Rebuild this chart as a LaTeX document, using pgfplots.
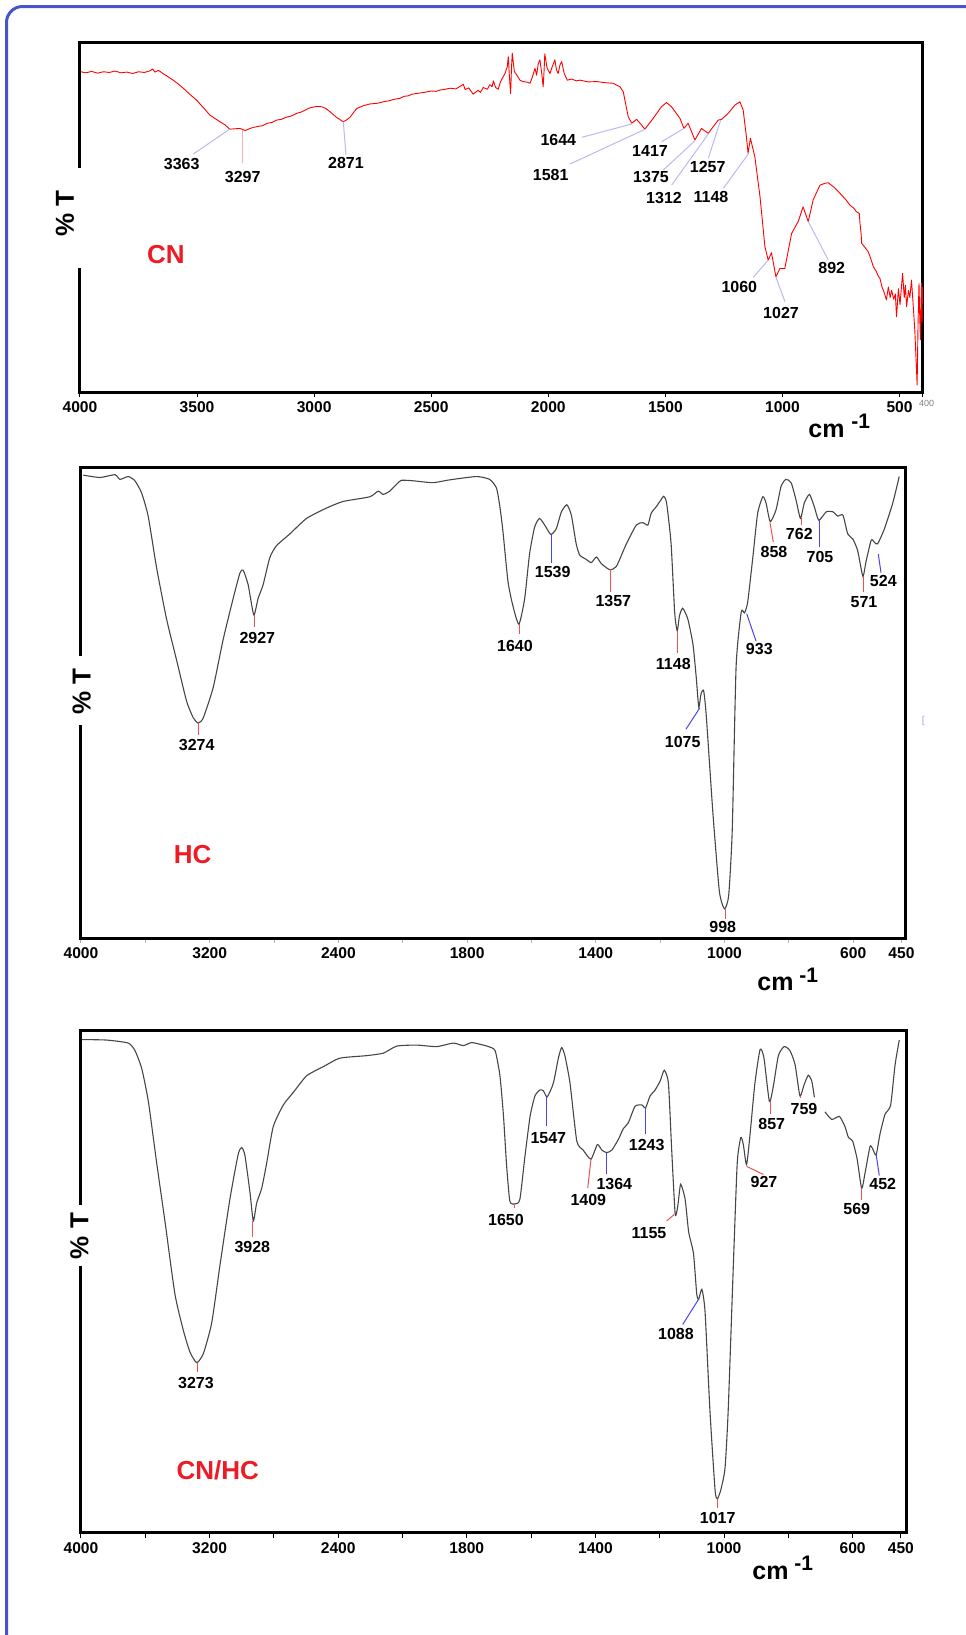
\documentclass[border=0pt]{standalone}
\usepackage{pgfplots}
\pgfplotsset{compat=1.18}
\usepackage{fontspec}
\setmainfont{Liberation Sans}

\newlength\px
\setlength\px{0.5pt}

\definecolor{cnred}{RGB}{255,0,0}
\definecolor{lblred}{RGB}{237,28,36}
\definecolor{curve}{RGB}{70,70,70}
\definecolor{frameblue}{RGB}{72,84,204}
\definecolor{lav}{RGB}{185,185,240}
\definecolor{pinkl}{RGB}{255,175,175}
\definecolor{redl}{RGB}{240,80,80}
\definecolor{bluel}{RGB}{70,70,235}

\tikzset{
  pk/.style={font=\fontsize{8}{9}\selectfont\bfseries, inner sep=0pt},
  ld/.style={line width=1\px},
  pt/.style={rotate=90, inner sep=0pt, font=\fontsize{13}{14}\selectfont\bfseries},
  smp/.style={inner sep=0pt, text=lblred, font=\fontsize{13}{14}\selectfont\bfseries},
}

\pgfplotsset{
  ftir/.style={
    scale only axis, anchor=south west, x dir=reverse,
    ymin=0, ymax=100, ytick=\empty,
    axis line style={line width=3\px},
    tick align=outside, xtick pos=bottom, major tick length=5\px,
    tick style={line width=1\px, black},
    ticklabel style={font=\fontsize{7.8}{9}\selectfont\bfseries},
    xticklabel style={anchor=center, yshift=-10.5\px},
    unbounded coords=jump,
  },
  % the x axis is twice as wide per unit below 2000 cm-1
  brk/.style={
    x coord trafo/.code={\pgfmathparse{(##1>2000)*((##1)/2+1000)+(##1<=2000)*(##1)}},
    xmin=436, xmax=4000,
    xtick={450,600,800,1000,1200,1400,1600,1800,2000,2400,2800,3200,3600,4000},
    xticklabels={450,600,,1000,,1400,,1800,,2400,,3200,,4000},
  },
}

\begin{document}
\begin{tikzpicture}[x=\px, y=-\px]
\path[use as bounding box] (0,0) rectangle (965,1635);
\draw[frameblue, line width=3\px, rounded corners=16\px] (6.5,6.5) rectangle (1000,1700);

% ---------------- CN ----------------
\begin{axis}[ftir, at={(80\px,-392\px)}, width=843\px, height=350\px,
  xmin=400, xmax=4000,
  xtick={400,500,1000,1500,2000,2500,3000,3500,4000},
  xticklabels={,500,1000,1500,2000,2500,3000,3500,4000}]
\addplot[cnred, line width=0.9\px, line join=round] coordinates {
(3996,91.5) (3975,91.2) (3950,91.6) (3925,91.1) (3900,91.5) (3875,91.3)
(3850,91.7) (3825,91.2) (3800,91.4) (3775,91.0) (3750,91.5) (3725,91.3)
(3700,91.8) (3690,92.3) (3680,91.4) (3665,91.9) (3650,91.2) (3602,89.1)
(3580,88.0) (3559,86.8) (3530,85.0) (3502,83.4) (3470,81.0) (3445,79.1)
(3420,78.0) (3402,77.2) (3380,76.3) (3360,75.1) (3340,75.2) (3317,75.3)
(3305,75.0) (3295,74.7) (3270,75.4) (3246,75.8) (3220,76.1) (3200,76.8)
(3180,77.0) (3160,77.7) (3140,77.9) (3120,78.5) (3100,78.8) (3075,79.6)
(3055,80.0) (3040,80.5) (3018,81.2) (2990,81.6) (2968,81.5)
(2950,81.0) (2933,80.1) (2905,78.5) (2876,77.2) (2860,77.8) (2847,78.5)
(2830,80.0) (2818,81.0) (2790,81.8) (2762,82.3) (2730,82.5) (2700,83.0)
(2680,83.2) (2660,83.6) (2634,83.9) (2615,84.5) (2600,84.6) (2580,85.1)
(2562,85.3) (2530,85.6) (2500,86.0) (2480,85.9) (2460,86.3) (2440,86.5)
(2420,86.8) (2395,86.6) (2380,87.2) (2363,87.9) (2355,86.4) (2340,86.9)
(2321,85.1) (2300,86.2) (2290,85.6) (2278,87.0) (2260,86.5) (2250,87.8)
(2240,87.2) (2235,88.9) (2225,87.0) (2214,86.5) (2205,88.5) (2195,89.8)
(2185,91.0) (2175,93.0) (2171,95.8) (2166,90.0) (2161,85.3) (2157,93.0)
(2154,96.8) (2145,91.5) (2135,90.6) (2120,89.0) (2107,88.7) (2090,88.5)
(2078,88.2) (2068,90.0) (2057,92.5) (2050,90.5) (2043,93.8) (2036,94.9)
(2028,91.0) (2022,87.2) (2018,92.0) (2015,96.6) (2005,92.5) (1993,91.0)
(1983,93.0) (1972,94.9) (1965,92.0) (1958,91.0) (1950,93.5) (1943,94.4)
(1932,91.0) (1919,89.1) (1900,89.4) (1880,88.9) (1865,89.1) (1830,88.6)
(1794,88.7) (1760,88.4) (1723,88.2) (1694,87.2) (1680,85.8) (1659,78.7)
(1644,76.8) (1623,77.9) (1602,76.3) (1588,75.1) (1552,78.2) (1517,81.5)
(1495,82.7) (1474,81.5) (1438,78.2) (1421,75.3) (1403,76.8) (1374,72.0)
(1346,75.3) (1317,73.9) (1296,75.8) (1274,77.7) (1260,77.9) (1232,79.6)
(1203,82.0) (1182,82.9) (1168,80.6) (1154,72.9) (1147,68.2) (1137,72.5)
(1118,67.2) (1096,55.8) (1075,41.5) (1061,37.7) (1047,39.8) (1028,32.9)
(1011,35.3) (990,35.3) (961,45.3) (933,48.7) (912,52.9) (890,48.7)
(869,54.9) (840,59.1) (820,59.6) (805,59.8) (780,58.5) (755,56.8)
(730,55.0) (712,53.4) (695,52.5) (684,51.5) (672,51.0) (669,48.2)
(664,45.0) (662,42.5) (650,41.5) (634,40.1) (625,38.5) (612,35.8)
(600,34.5) (590,33.0) (584,32.5) (575,30.0) (566,28.5) (556,26.3)
(548,30.0) (540,27.0) (534,29.1) (525,26.5) (518,28.0) (513,21.5)
(505,29.5) (498,25.0) (492,30.0) (487,33.9) (480,27.0) (475,30.5)
(470,24.4) (462,29.0) (456,27.0) (449,32.0) (442,25.0) (435,17.7)
(430,10.0) (425,2.0) (421,20.0) (417,31.0) (414,22.0) (411,14.9)
(408,26.0) (406,31.0) (404,20.0) (402,30.0)
};
\end{axis}
\fill[white] (76,168) rectangle (84,268);
\node[pt] at (65,213.5) {\% T};
\node[smp] at (166,254.3) {CN};
\node[inner sep=0pt, text=gray, font=\fontsize{4.5}{5}\selectfont] at (926.7,403) {400};
\node[anchor=base west, inner sep=0pt, font=\fontsize{12.5}{13}\selectfont\bfseries] at (808,437) {cm};
\node[anchor=base west, inner sep=0pt, font=\fontsize{10.5}{11}\selectfont\bfseries] at (851,428) {-1};
\draw[ld, lav] (193.3,154) -- (230,129);
\draw[ld, pinkl] (242.7,163.3) -- (242.7,130);
\draw[ld, lav] (346,155) -- (343.3,121.7);
\draw[ld, lav] (581.7,137.3) -- (631.7,124);
\draw[ld, lav] (570,164) -- (645,129.3);
\draw[ld, lav] (661.7,141.7) -- (684,128.3);
\draw[ld, lav] (663.3,170) -- (695,140.7);
\draw[ld, lav] (671.7,185) -- (708.3,134);
\draw[ld, lav] (708.3,158.3) -- (720.7,120);
\draw[ld, lav] (723.3,188.3) -- (748.3,154);
\draw[ld, lav] (753.3,277.3) -- (768.3,260);
\draw[ld, lav] (785,301.7) -- (776,277.3);
\draw[ld, lav] (828.3,260) -- (808.3,221.7);
\node[pk] at (181.7,164) {3363};
\node[pk] at (242.7,177.3) {3297};
\node[pk] at (346,163.3) {2871};
\node[pk] at (558.3,140) {1644};
\node[pk] at (550.7,175) {1581};
\node[pk] at (650,150.7) {1417};
\node[pk] at (651,177.3) {1375};
\node[pk] at (664,198.3) {1312};
\node[pk] at (707.7,166.7) {1257};
\node[pk] at (711,197.3) {1148};
\node[pk] at (739.3,286.7) {1060};
\node[pk] at (781,312.7) {1027};
\node[pk] at (831.7,268.3) {892};

% ---------------- HC ----------------
\begin{axis}[ftir, brk, at={(81\px,-938\px)}, width=825\px, height=470.4\px,
  tick style={line width=1\px, gray!60}]
\addplot[curve, line width=1.1\px, smooth, tension=0.35] coordinates {
(3986,98.4) (3882,97.9) (3789,98.5) (3758,97.5) (3706,98.1) (3665,97.2)
(3623,94.6) (3582,89.6) (3530,78.7) (3468,67.8) (3406,59.1) (3344,50.4)
(3302,46.8) (3271,45.7) (3240,46.8) (3178,53.3) (3116,63.5) (3054,72.2)
(3012,77.6) (2992,78.2) (2961,75.1) (2926,68.7) (2899,72.2) (2868,75.1)
(2826,80.9) (2785,83.4) (2702,85.9) (2598,89.2) (2474,91.4) (2371,92.8)
(2205,93.8) (2153,95.0) (2122,94.3) (2081,95.0) (2040,96.4) (2009,97.3)
(1968,97.2) (1906,96.8) (1854,97.4) (1771,98.1) (1730,97.5) (1709,95.7)
(1699,92.1) (1689,86.7) (1673,75.8) (1658,70.7) (1639,66.7) (1621,72.2)
(1606,81.6) (1590,87.4) (1575,89.2) (1559,87.8) (1540,85.8) (1523,87.0)
(1507,90.6) (1490,92.1) (1476,89.9) (1461,83.8) (1450,81.4) (1430,80.5)
(1414,79.8) (1398,81.0) (1383,79.6) (1357,78.3) (1336,79.0) (1305,83.8)
(1274,87.8) (1254,88.3) (1238,87.8) (1228,90.3) (1212,91.7) (1197,93.2)
(1189,93.9) (1180,92.5) (1166,83.8) (1155,69.3) (1147,65.3) (1140,68.5)
(1130,70.1) (1114,67.8) (1098,62.4) (1088,55.5) (1080,49.1) (1073,51.9)
(1065,52.6) (1057,47.5) (1036,26.5) (1016,9.9) (1000,6.2) (987,9.1)
(976,22.9) (964,57.7) (948,69.3) (938,69.1) (928,71.4) (912,80.9)
(897,90.3) (881,93.8) (871,92.5) (858,88.5) (840,91.0) (824,96.1)
(809,97.5) (793,96.8) (778,93.2) (764,89.2) (752,92.5) (736,94.3)
(721,91.7) (707,88.8) (684,90.6) (663,90.6) (648,89.7) (632,89.9)
(617,85.9) (601,84.8) (586,82.3) (570,76.9) (560,80.1) (544,84.6)
(534,84.1) (524,83.8) (503,87.0) (477,92.5) (457,98.1)
};
\end{axis}
\fill[white] (77,656.4) rectangle (85,724.6);
\node[pt] at (81.7,691.3) {\% T};
\node[smp] at (192.7,855) {HC};
\node[inner sep=0pt, text=bluel!50, font=\fontsize{5}{6}\selectfont] at (923.3,721) {[};
\node[anchor=base west, inner sep=0pt, font=\fontsize{12.5}{13}\selectfont\bfseries] at (757,990) {cm};
\node[anchor=base west, inner sep=0pt, font=\fontsize{10.5}{11}\selectfont\bfseries] at (799,982) {-1};
\draw[ld, redl] (198.3,722.9) -- (198.3,734.9);
\draw[ld, redl] (254,614.7) -- (254,627.4);
\draw[ld, redl] (519,624) -- (519,634.2);
\draw[ld, bluel] (551.7,534.2) -- (551.7,562.5);
\draw[ld, redl] (610,569.3) -- (610,591.5);
\draw[ld, redl] (677.7,630.8) -- (677.7,653);
\draw[ld, bluel] (700,707.6) -- (686,729.1);
\draw[ld, redl] (725,908.9) -- (725,919.2);
\draw[ld, bluel] (746.7,613.7) -- (756,641);
\draw[ld, redl] (770,522.6) -- (773.3,542);
\draw[ld, redl] (801,518.1) -- (801,525);
\draw[ld, bluel] (819.3,519.8) -- (819.3,547.2);
\draw[ld, redl] (863.3,576.2) -- (863.3,591.5);
\draw[ld, bluel] (878.3,554) -- (881,572.7);
\node[pk] at (196.7,745.1) {3274};
\node[pk] at (257.3,637.6) {2927};
\node[pk] at (515,646.1) {1640};
\node[pk] at (552.7,571.7) {1539};
\node[pk] at (613.3,601.1) {1357};
\node[pk] at (673.3,663.9) {1148};
\node[pk] at (682.7,742.4) {1075};
\node[pk] at (722.7,927) {998};
\node[pk] at (759.3,648.9) {933};
\node[pk] at (774,552.3) {858};
\node[pk] at (799.3,534.2) {762};
\node[pk] at (820,557.4) {705};
\node[pk] at (864,602.4) {571};
\node[pk] at (883.3,581.3) {524};

% ---------------- CN/HC ----------------
\begin{axis}[ftir, brk, at={(81\px,-1532.5\px)}, width=826\px, height=502.5\px,
  xmin=431]
\addplot[curve, line width=1.1\px, smooth, tension=0.35] coordinates {
(3996,98.1) (3840,98.0) (3706,97.4) (3664,95.9) (3622,92.3) (3581,85.8)
(3529,73.5) (3478,62.0) (3416,47.5) (3364,40.3) (3322,35.9) (3280,33.8)
(3239,35.6) (3187,41.7) (3135,53.3) (3074,66.3) (3022,75.3) (3000,76.6)
(2980,75.0) (2949,67.7) (2928,62.0) (2907,65.6) (2876,68.5) (2845,73.5)
(2804,80.8) (2741,85.1) (2679,87.6) (2596,90.9) (2493,92.7) (2389,94.4)
(2223,94.9) (2119,95.4) (2036,96.8) (1956,97.0) (1894,96.7) (1842,97.4)
(1811,96.9) (1785,97.5) (1749,97.0) (1733,96.7) (1712,95.9) (1697,90.9)
(1686,82.9) (1676,72.8) (1666,65.9) (1650,65.4) (1635,66.3) (1619,75.0)
(1603,82.9) (1588,86.9) (1572,88.1) (1562,87.9) (1550,86.7) (1531,89.4)
(1515,94.5) (1505,96.5) (1495,94.9) (1479,89.4) (1458,77.9) (1438,76.1)
(1414,74.3) (1394,77.2) (1380,76.1) (1365,75.6) (1349,76.1) (1329,78.2)
(1313,80.4) (1298,81.5) (1277,84.8) (1256,85.1) (1244,84.5) (1230,86.9)
(1215,88.0) (1199,89.8) (1186,92.0) (1173,89.4) (1163,76.4) (1152,63.4)
(1144,64.9) (1135,69.3) (1121,66.3) (1110,59.8) (1095,55.5) (1085,47.5)
(1079,46.4) (1069,48.4) (1059,43.9) (1044,24.4) (1028,8.5) (1021,6.7)
(1010,8.5) (997,12.8) (987,24.4) (971,53.3) (959,73.5) (948,78.6)
(940,77.2) (930,73.2) (919,79.3) (904,89.4) (888,96.1) (876,94.5)
(859,85.8) (847,88.7) (831,94.9) (813,96.7) (795,95.9) (779,93.1)
(764,86.9) (751,89.1) (738,91.0) (727,89.8) (719,86.6) (700,nan)
(686,83.7) (665,82.2) (641,82.8) (624,80.8) (613,78.6) (600,77.9)
(586,74.3) (572,68.5) (561,71.7) (546,76.8) (538,76.4) (527,75.1)
(515,79.3) (499,83.3) (482,85.0) (468,93.1) (455,98.0)
};
\end{axis}
\fill[white] (77,1204.5) rectangle (85,1266.4);
\node[pt] at (79.5,1236) {\% T};
\node[smp] at (217.7,1470) {CN/HC};
\node[anchor=base west, inner sep=0pt, font=\fontsize{12.5}{13}\selectfont\bfseries] at (752,1579) {cm};
\node[anchor=base west, inner sep=0pt, font=\fontsize{10.5}{11}\selectfont\bfseries] at (794,1570) {-1};
\draw[ld, redl] (197.7,1362.7) -- (197.7,1371.8);
\draw[ld, redl] (252.7,1220.9) -- (252.7,1237.3);
\draw[ld, redl] (514.3,1203.5) -- (514.3,1207.5);
\draw[ld, bluel] (546.7,1096.5) -- (546.7,1126.4);
\draw[ld, redl] (591,1159.1) -- (587.7,1188.2);
\draw[ld, bluel] (606.7,1152.5) -- (606.7,1173.6);
\draw[ld, bluel] (645.3,1107.5) -- (645.3,1133.6);
\draw[ld, redl] (674.3,1214.4) -- (666.7,1220.9);
\draw[ld, bluel] (698.7,1299.1) -- (682.7,1324.5);
\draw[ld, redl] (717.3,1499.1) -- (717.3,1508.2);
\draw[ld, redl] (746.7,1166.4) -- (763.3,1174.4);
\draw[ld, redl] (770,1100.9) -- (770,1113.6);
\draw[ld, redl] (800,1095.5) -- (800,1098);
\draw[ld, redl] (861.7,1188.2) -- (861.7,1199.8);
\draw[ld, bluel] (876,1153.6) -- (879.3,1175.5);
\node[pk] at (196,1382.7) {3273};
\node[pk] at (252.3,1247.1) {3928};
\node[pk] at (506,1219.8) {1650};
\node[pk] at (548.3,1138) {1547};
\node[pk] at (588.3,1199.8) {1409};
\node[pk] at (614.3,1183.5) {1364};
\node[pk] at (646.7,1144.5) {1243};
\node[pk] at (649,1232.9) {1155};
\node[pk] at (676,1333.6) {1088};
\node[pk] at (717.7,1518) {1017};
\node[pk] at (764,1182.4) {927};
\node[pk] at (771.7,1123.5) {857};
\node[pk] at (804,1108.9) {759};
\node[pk] at (856.7,1209.3) {569};
\node[pk] at (882.7,1183.5) {452};
\end{tikzpicture}
\end{document}
